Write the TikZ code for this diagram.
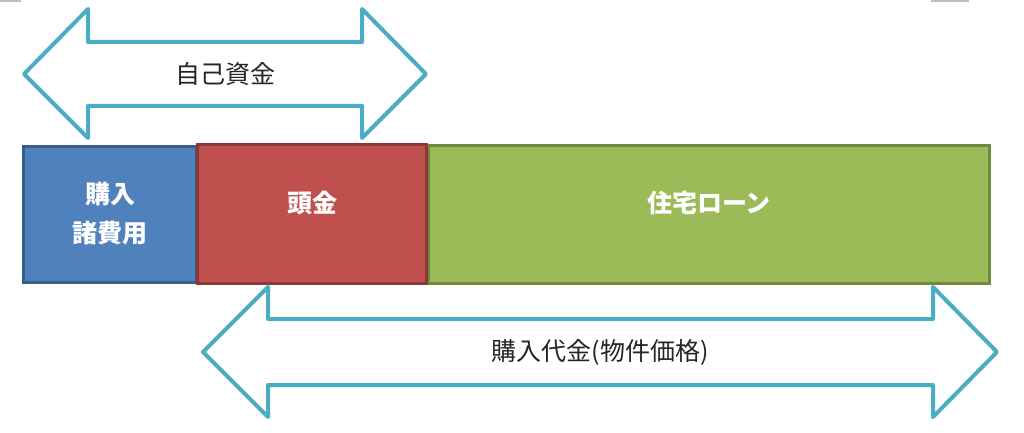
\documentclass[tikz,border=0pt]{standalone}
\usepackage{fontspec}
\usepackage{tikz}
\usetikzlibrary{positioning}
\newfontfamily\jpfont{Noto Sans CJK JP}
\definecolor{hiyoublue}{HTML}{4F81BD}
\definecolor{hiyouedge}{HTML}{385D8A}
\definecolor{atamared}{HTML}{C0504D}
\definecolor{atamaedge}{HTML}{8C3836}
\definecolor{loangreen}{HTML}{9BBB59}
\definecolor{loanedge}{HTML}{71893F}
\definecolor{arrowaqua}{HTML}{4BACC6}

\begin{document}
\begin{tikzpicture}[
    x=1pt, y=-1pt,
    font=\jpfont\fontsize{25}{40}\selectfont,
    part/.style={rectangle, line width=3pt, inner sep=0pt, text=white, align=center, font=\jpfont\bfseries\fontsize{25}{39}\selectfont},
    highlabel/.style={text height=22pt, text depth=25pt},
    blockarrow/.style={draw=arrowaqua, line width=4pt, line join=round, fill=white},
    arrowlabel/.style={text=black!85, inner sep=0pt}
]

% canvas
\useasboundingbox (0,0) rectangle (1024,433);
\fill [gray!50] (0,0) rectangle (21,1.6);
\fill [gray!50] (931,0) rectangle (969,1.6);

% Cost blocks (blue, green, then red on top)
\node [part, fill=hiyoublue, draw=hiyouedge, minimum width=173pt, minimum height=136pt] (hiyou) at (110,214) {購入\\諸費用};
\node [part, highlabel, fill=loangreen, draw=loanedge, minimum width=561pt, minimum height=138pt] (loan) at (709,214) {住宅ローン};
\node [part, highlabel, fill=atamared, draw=atamaedge, minimum width=229pt, minimum height=139pt] (atama) at (312,213.5) {頭金};

% Own funds arrow (top)
\draw [blockarrow] (24,74) -- (88,9) -- (88,42) -- (362,42) -- (362,9) -- (426,74)
    -- (362,138) -- (362,106) -- (88,106) -- (88,138) -- cycle;
\node [arrowlabel] (jiko) at (225,74) {自己資金};

% Purchase price arrow (bottom)
\draw [blockarrow] (203,352) -- (268,287) -- (268,319) -- (933,319) -- (933,287) -- (997,352)
    -- (933,417) -- (933,385) -- (268,385) -- (268,417) -- cycle;
\node [arrowlabel] (kakaku) at (600,352) {購入代金(物件価格)};

\end{tikzpicture}
\end{document}
